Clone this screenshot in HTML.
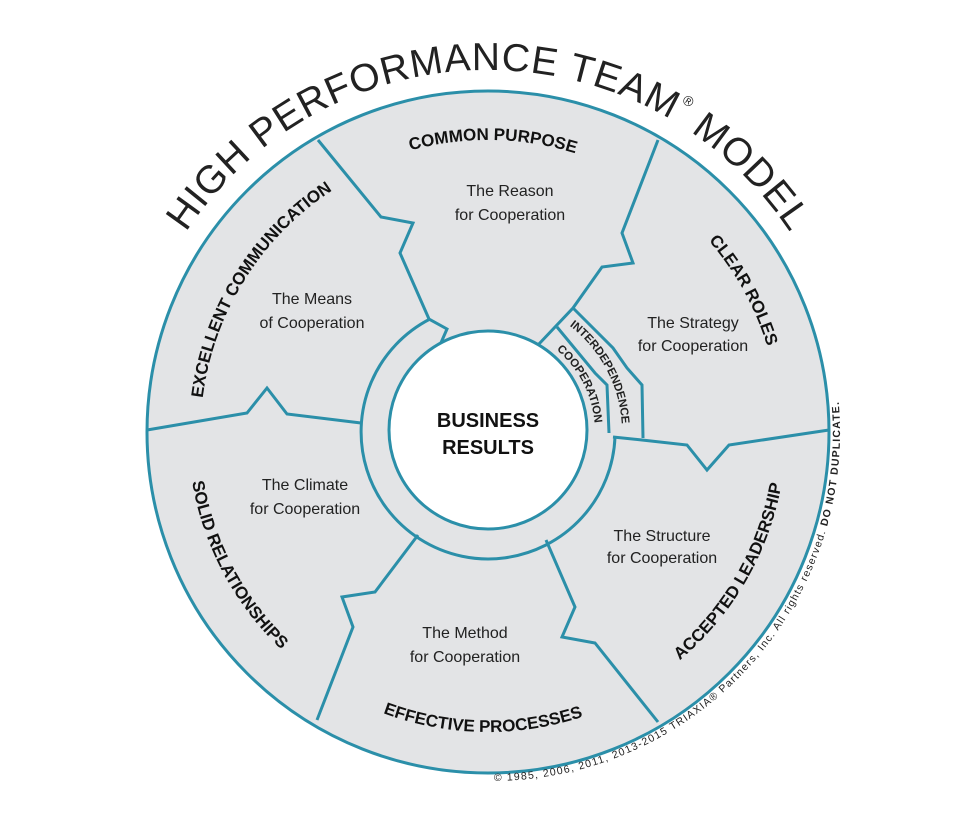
<!DOCTYPE html>
<html><head><meta charset="utf-8"><style>
html,body{margin:0;padding:0;background:#fff;}
svg{display:block;}
.t{font-family:"Liberation Sans",sans-serif;font-size:16px;fill:#222;text-anchor:middle;}
.b{font-family:"Liberation Sans",sans-serif;font-weight:bold;font-size:17px;fill:#111;}
</style></head><body>
<svg width="975" height="835" viewBox="0 0 975 835" xmlns="http://www.w3.org/2000/svg">
<defs>
<path id="pTitle" d="M126,432 A362,362 0 0 1 850,432"/>
<path id="pEC" d="M333.3,679.6 A292,292 0 0 1 642.7,184.4"/>
<path id="pCP" d="M196,426.9 A292,292 0 0 1 780,437.1"/>
<path id="pCR" d="M346.4,176.6 A292,292 0 0 1 629.6,687.4"/>
<path id="pAL" d="M338,691.8 A300,300 0 0 0 638,172.2"/>
<path id="pEP" d="M188.05,426.8 A300,300 0 0 0 788,437.2"/>
<path id="pSR" d="M347.1,167.1 A300,300 0 0 0 628.9,696.9"/>
<path id="pCopy" d="M494.1,781 A349,349 0 0 0 834.7,371.2"/>
<path id="pInt" d="M559,318.4 A134,134 0 0 1 621.9,436.7"/>
<path id="pCoop" d="M546.3,342.3 A107,107 0 0 1 594.9,435.7"/>
</defs>
<g fill="none" stroke="#2b8fa9" stroke-width="3" stroke-linejoin="miter">
<circle cx="488" cy="432" r="341" fill="#e3e4e6"/>
<polyline points="318,140 381,217 413,223 400,253 429,319 447,329 440,345"/>
<polyline points="658,140 622,233 633,263 602,267 573,308 538,345"/>
<polyline points="573,308 613,348 627,368 642,385 643,438"/>
<polyline points="557,327 595,373 607,385 609,433"/>
<polyline points="147,430 247,413 267,388 287,414 361,423"/>
<polyline points="613,437 642,440 687,445 707,470 729,445 829,430"/>
<polyline points="418,535 375,592 342,597 353,627 317,720"/>
<polyline points="546,540 575,607 562,637 595,643 658,722"/>
<path d="M430,319 A127,127 0 1 0 615,437"/>
<circle cx="488" cy="430" r="99" fill="#fff"/>
</g>
<text font-family="Liberation Sans,sans-serif" font-size="39" fill="#222" text-anchor="middle"><textPath href="#pTitle" startOffset="50%" textLength="714" lengthAdjust="spacing">HIGH PERFORMANCE TEAM<tspan font-size="14" dy="-20">®</tspan><tspan dy="20"> MODEL</tspan></textPath></text>
<text class="b" text-anchor="middle"><textPath href="#pEC" startOffset="50%">EXCELLENT COMMUNICATION</textPath></text>
<text class="b" text-anchor="middle"><textPath href="#pCP" startOffset="50%">COMMON PURPOSE</textPath></text>
<text class="b" text-anchor="middle"><textPath href="#pCR" startOffset="50%">CLEAR ROLES</textPath></text>
<text class="b" text-anchor="middle"><textPath href="#pAL" startOffset="50%">ACCEPTED LEADERSHIP</textPath></text>
<text class="b" text-anchor="middle"><textPath href="#pEP" startOffset="50%">EFFECTIVE PROCESSES</textPath></text>
<text class="b" text-anchor="middle"><textPath href="#pSR" startOffset="50%">SOLID RELATIONSHIPS</textPath></text>
<text font-family="Liberation Sans,sans-serif" font-size="10.5" fill="#222"><textPath href="#pCopy" textLength="575" lengthAdjust="spacing">© 1985, 2006, 2011, 2013-2015 TRIAXIA® Partners, Inc. All rights reserved. <tspan font-weight="bold">DO NOT DUPLICATE.</tspan></textPath></text>
<text font-family="Liberation Sans,sans-serif" font-weight="bold" font-size="11.5" fill="#222" text-anchor="middle"><textPath href="#pInt" startOffset="50%">INTERDEPENDENCE</textPath></text>
<text font-family="Liberation Sans,sans-serif" font-weight="bold" font-size="11.5" fill="#222" text-anchor="middle"><textPath href="#pCoop" startOffset="50%">COOPERATION</textPath></text>
<text class="t" x="510" y="196">The Reason</text><text class="t" x="510" y="220">for Cooperation</text>
<text class="t" x="312" y="304">The Means</text><text class="t" x="312" y="328">of Cooperation</text>
<text class="t" x="693" y="328">The Strategy</text><text class="t" x="693" y="351">for Cooperation</text>
<text class="t" x="305" y="490">The Climate</text><text class="t" x="305" y="514">for Cooperation</text>
<text class="t" x="662" y="541">The Structure</text><text class="t" x="662" y="563">for Cooperation</text>
<text class="t" x="465" y="638">The Method</text><text class="t" x="465" y="662">for Cooperation</text>
<text font-family="Liberation Sans,sans-serif" font-weight="bold" font-size="20" fill="#111" text-anchor="middle" x="488" y="427">BUSINESS</text>
<text font-family="Liberation Sans,sans-serif" font-weight="bold" font-size="20" fill="#111" text-anchor="middle" x="488" y="454">RESULTS</text>
</svg>
</body></html>
